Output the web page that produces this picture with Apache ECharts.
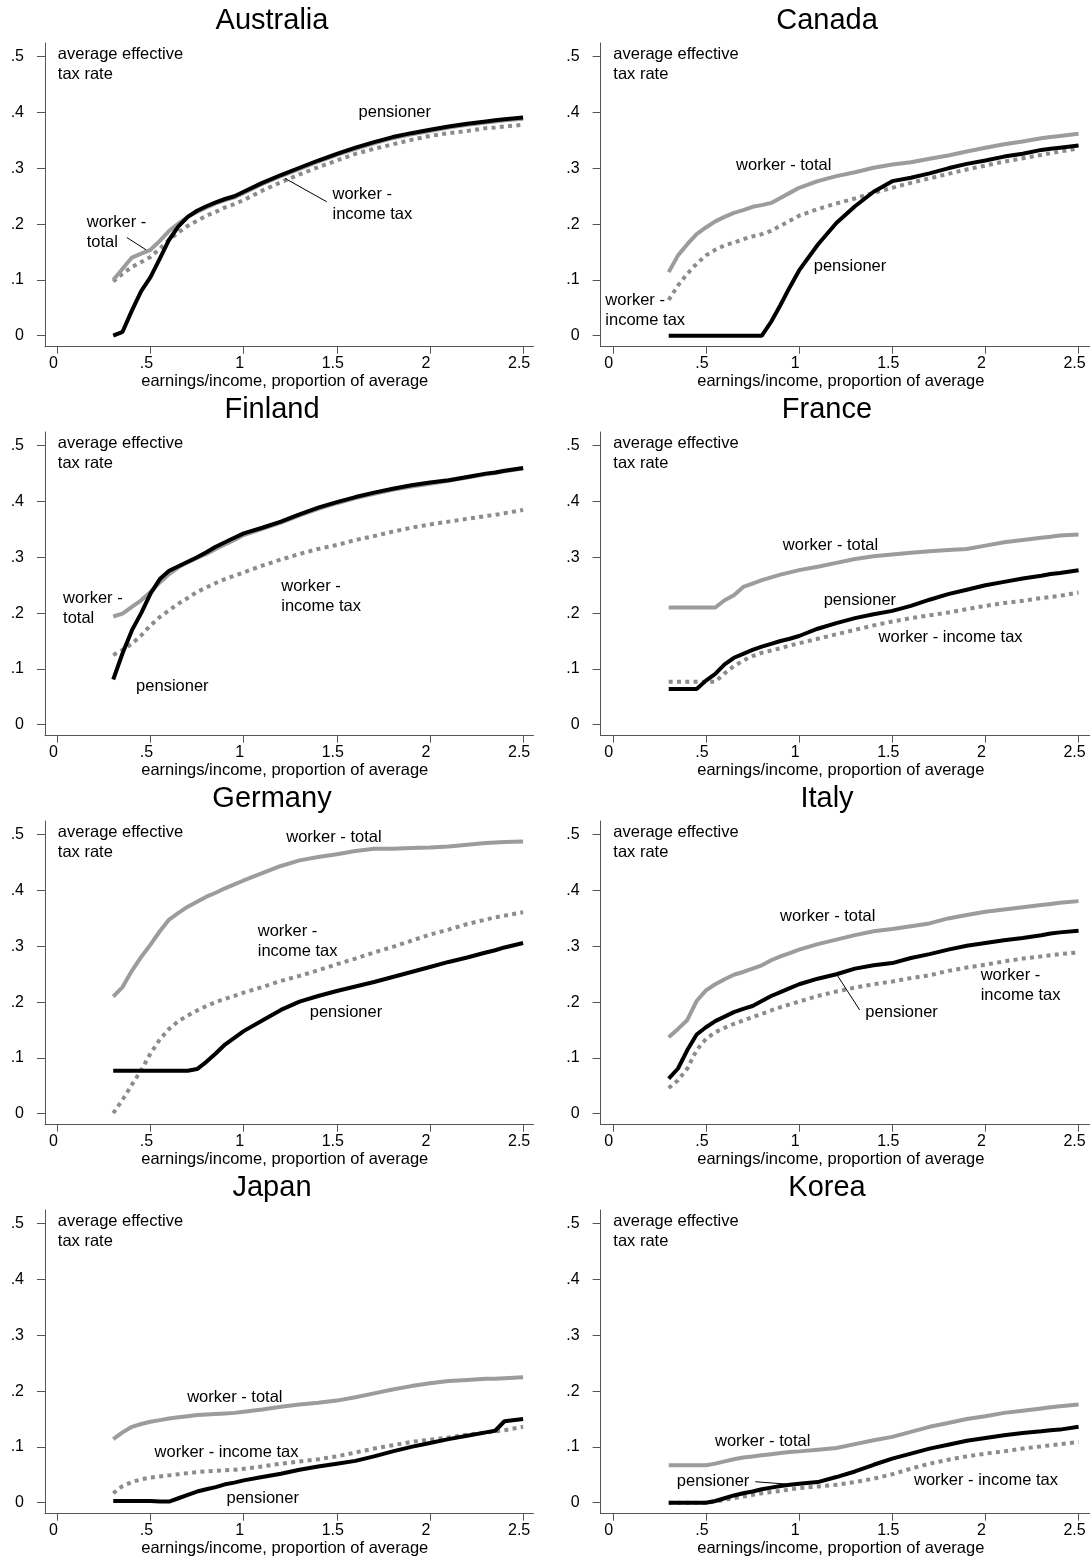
<!DOCTYPE html>
<html><head><meta charset="utf-8">
<script src="https://cdn.jsdelivr.net/npm/echarts@6/dist/echarts.min.js"></script>
<style>html,body{margin:0;padding:0;background:#fff}#c{width:1090px;height:1558px}</style>
</head><body><div id="c"></div>
<script>
// earnings/income as proportion of average
const earnings = [0.3,0.35,0.4,0.45,0.5,0.55,0.6,0.65,0.7,0.75,0.8,0.85,0.9,0.95,1.0,1.1,1.2,1.3,1.4,1.5,1.6,1.7,1.8,1.9,2.0,2.1,2.2,2.3,2.35,2.4,2.5];

const ausPens  = [0.0,0.007,0.045,0.08,0.105,0.138,0.172,0.196,0.213,0.224,0.232,0.239,0.245,0.25,0.258,0.274,0.288,0.301,0.314,0.326,0.337,0.347,0.356,0.363,0.369,0.375,0.38,0.384,0.386,0.388,0.391];
const ausTotal = [0.1,0.12,0.14,0.147,0.154,0.17,0.188,0.201,0.213,0.222,0.230,0.237,0.243,0.248,0.256,0.272,0.286,0.299,0.312,0.324,0.335,0.345,0.354,0.361,0.367,0.373,0.378,0.382,0.384,0.386,0.389];
const ausTax   = [0.097,0.111,0.123,0.132,0.141,0.156,0.172,0.185,0.197,0.206,0.215,0.222,0.23,0.236,0.243,0.26,0.275,0.289,0.302,0.314,0.326,0.335,0.343,0.351,0.358,0.363,0.367,0.372,0.373,0.375,0.378];

const canPens  = [0,0,0,0,0,0,0,0,0,0,0,0.025,0.055,0.087,0.117,0.163,0.202,0.232,0.258,0.277,0.283,0.291,0.3,0.308,0.314,0.321,0.326,0.333,0.335,0.337,0.341];
const canTotal = [0.114,0.144,0.164,0.182,0.194,0.205,0.213,0.22,0.225,0.231,0.234,0.238,0.247,0.256,0.265,0.277,0.286,0.293,0.301,0.307,0.311,0.317,0.323,0.33,0.337,0.343,0.348,0.354,0.356,0.358,0.362];
const canTax   = [0.064,0.09,0.111,0.129,0.144,0.154,0.162,0.167,0.173,0.178,0.182,0.188,0.197,0.206,0.215,0.227,0.237,0.246,0.256,0.265,0.274,0.282,0.29,0.298,0.305,0.312,0.318,0.324,0.327,0.33,0.336];

const finPens  = [0.081,0.128,0.169,0.2,0.235,0.261,0.276,0.284,0.292,0.3,0.309,0.319,0.327,0.335,0.343,0.353,0.364,0.377,0.389,0.399,0.408,0.416,0.423,0.429,0.434,0.438,0.444,0.45,0.452,0.455,0.46];
const finTotal = [0.194,0.199,0.211,0.223,0.238,0.255,0.27,0.282,0.291,0.299,0.306,0.315,0.323,0.331,0.34,0.351,0.362,0.375,0.387,0.397,0.406,0.414,0.421,0.427,0.432,0.437,0.443,0.449,0.451,0.454,0.459];
const finTax   = [0.125,0.134,0.145,0.16,0.178,0.193,0.205,0.217,0.227,0.238,0.246,0.254,0.261,0.267,0.273,0.285,0.296,0.306,0.315,0.322,0.331,0.338,0.346,0.353,0.359,0.364,0.369,0.374,0.376,0.379,0.385];

const fraPens  = [0.064,0.064,0.064,0.064,0.079,0.091,0.108,0.12,0.127,0.134,0.14,0.145,0.15,0.154,0.159,0.172,0.182,0.191,0.198,0.204,0.213,0.224,0.234,0.242,0.25,0.256,0.262,0.267,0.27,0.272,0.277];
const fraTotal = [0.21,0.21,0.21,0.21,0.21,0.21,0.223,0.232,0.247,0.253,0.259,0.264,0.269,0.273,0.277,0.283,0.29,0.297,0.302,0.305,0.308,0.311,0.313,0.315,0.321,0.327,0.331,0.335,0.337,0.339,0.341];
const fraTax   = [0.077,0.077,0.077,0.077,0.077,0.077,0.092,0.105,0.115,0.123,0.129,0.133,0.137,0.142,0.146,0.154,0.162,0.17,0.178,0.185,0.191,0.196,0.201,0.207,0.213,0.218,0.222,0.227,0.229,0.231,0.237];

const gerPens  = [0.077,0.077,0.077,0.077,0.077,0.077,0.077,0.077,0.077,0.08,0.093,0.108,0.124,0.136,0.148,0.167,0.186,0.201,0.211,0.22,0.228,0.236,0.245,0.254,0.263,0.272,0.28,0.289,0.293,0.298,0.306];
const gerTotal = [0.21,0.227,0.256,0.281,0.303,0.327,0.348,0.36,0.371,0.38,0.389,0.396,0.404,0.411,0.418,0.431,0.444,0.454,0.46,0.465,0.471,0.475,0.475,0.476,0.477,0.479,0.482,0.485,0.486,0.487,0.488];
const gerTax   = [0.001,0.025,0.052,0.078,0.108,0.133,0.152,0.166,0.176,0.185,0.193,0.2,0.206,0.211,0.217,0.227,0.238,0.247,0.257,0.268,0.278,0.289,0.299,0.31,0.321,0.33,0.34,0.348,0.352,0.355,0.361];

const itaPens  = [0.063,0.081,0.114,0.142,0.155,0.166,0.174,0.182,0.188,0.193,0.202,0.211,0.218,0.225,0.232,0.242,0.25,0.26,0.266,0.27,0.279,0.286,0.294,0.301,0.306,0.311,0.315,0.32,0.323,0.325,0.328];
const itaTotal = [0.137,0.152,0.168,0.202,0.221,0.232,0.241,0.249,0.254,0.26,0.266,0.275,0.282,0.288,0.294,0.304,0.312,0.32,0.327,0.331,0.336,0.341,0.35,0.356,0.362,0.366,0.37,0.374,0.376,0.378,0.381];
const itaTax   = [0.046,0.06,0.081,0.114,0.134,0.146,0.154,0.161,0.167,0.173,0.179,0.185,0.191,0.196,0.201,0.211,0.219,0.226,0.232,0.237,0.243,0.248,0.256,0.262,0.267,0.273,0.278,0.282,0.284,0.286,0.289];

const jpnPens  = [0.003,0.003,0.003,0.003,0.003,0.002,0.002,0.008,0.014,0.02,0.024,0.028,0.033,0.036,0.04,0.046,0.052,0.059,0.065,0.07,0.075,0.083,0.092,0.1,0.107,0.114,0.12,0.126,0.129,0.146,0.15];
const jpnTotal = [0.114,0.126,0.136,0.141,0.145,0.148,0.151,0.153,0.155,0.157,0.158,0.159,0.16,0.161,0.163,0.167,0.172,0.176,0.179,0.183,0.189,0.196,0.203,0.209,0.214,0.218,0.22,0.222,0.222,0.223,0.225];
const jpnTax   = [0.017,0.03,0.037,0.042,0.045,0.047,0.049,0.051,0.053,0.055,0.056,0.057,0.058,0.059,0.061,0.065,0.07,0.074,0.078,0.083,0.09,0.097,0.103,0.109,0.113,0.117,0.122,0.126,0.128,0.13,0.136];

const korPens  = [0,0,0,0,0,0.003,0.008,0.013,0.017,0.02,0.024,0.027,0.03,0.032,0.034,0.037,0.046,0.056,0.068,0.079,0.088,0.097,0.104,0.111,0.116,0.121,0.125,0.128,0.13,0.131,0.136];
const korTotal = [0.067,0.067,0.067,0.067,0.067,0.07,0.074,0.078,0.081,0.083,0.085,0.087,0.089,0.091,0.092,0.095,0.098,0.105,0.112,0.118,0.127,0.136,0.143,0.15,0.155,0.161,0.165,0.169,0.171,0.173,0.176];
const korTax   = [0,0,0,0,0,0.002,0.005,0.008,0.011,0.014,0.017,0.019,0.021,0.024,0.026,0.029,0.032,0.037,0.043,0.051,0.061,0.07,0.077,0.083,0.088,0.092,0.097,0.101,0.103,0.105,0.109];

const countries = ['Australia','Canada','Finland','France','Germany','Italy','Japan','Korea'];
const pensioner = [ausPens, canPens, finPens, fraPens, gerPens, itaPens, jpnPens, korPens];
const workerTotal = [ausTotal, canTotal, finTotal, fraTotal, gerTotal, itaTotal, jpnTotal, korTotal];
const workerIncomeTax = [ausTax, canTax, finTax, fraTax, gerTax, itaTax, jpnTax, korTax];

const xTickValues = [0, 0.5, 1, 1.5, 2, 2.5];
const xTickLabels = ['0', '.5', '1', '1.5', '2', '2.5'];
const yTickValues = [0, 0.1, 0.2, 0.3, 0.4, 0.5];
const yTickLabels = ['0', '.1', '.2', '.3', '.4', '.5'];

// annotation labels [x, y, text] in data units (left edge, vertical middle)
const yTitleNote = [0, 0.4865, 'average effective\ntax rate'];
const ausNotes = [[1.614, 0.401, 'pensioner'], [1.474, 0.236, 'worker -\nincome tax'], [0.155, 0.1855, 'worker -\ntotal']];
const canNotes = [[0.659, 0.305, 'worker - total'], [1.076, 0.125, 'pensioner'], [-0.043, 0.045, 'worker -\nincome tax']];
const finNotes = [[0.028, 0.2086, 'worker -\ntotal'], [1.199, 0.2294, 'worker -\nincome tax'], [0.42, 0.068, 'pensioner']];
const fraNotes = [[0.910, 0.321, 'worker - total'], [1.129, 0.222, 'pensioner'], [1.424, 0.157, 'worker - income tax']];
const gerNotes = [[1.226, 0.496, 'worker - total'], [1.073, 0.3095, 'worker -\nincome tax'], [1.352, 0.181, 'pensioner']];
const itaNotes = [[0.895, 0.353, 'worker - total'], [1.353, 0.181, 'pensioner'], [1.972, 0.230, 'worker -\nincome tax']];
const jpnNotes = [[0.694, 0.188, 'worker - total'], [0.519, 0.0896, 'worker - income tax'], [0.905, 0.0079, 'pensioner']];
const korNotes = [[0.546, 0.109, 'worker - total'], [0.341, 0.0376, 'pensioner'], [1.614, 0.0394, 'worker - income tax']];
const notes = [ausNotes, canNotes, finNotes, fraNotes, gerNotes, itaNotes, jpnNotes, korNotes];

// connector lines [x1, y1, x2, y2]
const ausLinks = [[1.446, 0.240, 1.222, 0.282], [0.373, 0.176, 0.476, 0.154]];
const itaLinks = [[1.325, 0.186, 1.203, 0.249]];
const korLinks = [[0.765, 0.0376, 0.998, 0.0317]];
const links = [ausLinks, [], [], [], [], itaLinks, [], korLinks];

// ---------- layout ----------
const FONT = '"Liberation Sans", Arial, Helvetica, sans-serif';
const COL_LEFT = [45, 600.6];
const COL_WIDTH = [488.5, 489.4];
const ROW_TOP = 43, ROW_STEP = 389, PLOT_H = 303.7;
const X_RANGE = [[-0.0663, 2.5558], [-0.0655, 2.5614]];
const Y_RANGE = [-0.0197, 0.5246];
const TITLE_X = [272, 827];
const TITLE_Y = 20.5;
const AXIS_COLOR = '#555';

function lookup(vals, labels, v) {
  const i = vals.findIndex(t => Math.abs(t - v) < 1e-6);
  return i >= 0 ? labels[i] : '';
}

const grids = [], xAxes = [], yAxes = [], series = [], graphics = [];
countries.forEach((name, k) => {
  const col = k % 2, row = Math.floor(k / 2);
  grids.push({left: COL_LEFT[col], top: ROW_TOP + ROW_STEP * row, width: COL_WIDTH[col], height: PLOT_H, containLabel: false});
  xAxes.push({
    type: 'value', gridIndex: k, min: X_RANGE[col][0], max: X_RANGE[col][1],
    splitLine: {show: false},
    axisLine: {show: true, onZero: false, lineStyle: {color: AXIS_COLOR, width: 1}},
    axisTick: {show: true, length: 7, customValues: xTickValues, lineStyle: {color: AXIS_COLOR}},
    axisLabel: {customValues: xTickValues, formatter: v => lookup(xTickValues, xTickLabels, v),
      color: '#000', fontSize: 16, fontFamily: FONT, margin: 9, padding: [0, 8, 0, 0]},
    name: 'earnings/income, proportion of average', nameLocation: 'middle', nameGap: 25,
    nameTextStyle: {color: '#000', fontSize: 16.5, fontFamily: FONT, padding: [0, 9, 0, 0]}
  });
  yAxes.push({
    type: 'value', gridIndex: k, min: Y_RANGE[0], max: Y_RANGE[1],
    splitLine: {show: false},
    axisLine: {show: true, onZero: false, lineStyle: {color: AXIS_COLOR, width: 1}},
    axisTick: {show: true, length: 8, customValues: yTickValues, lineStyle: {color: AXIS_COLOR}},
    axisLabel: {customValues: yTickValues, formatter: v => lookup(yTickValues, yTickLabels, v),
      color: '#000', fontSize: 16, fontFamily: FONT, margin: 21}
  });
  const pts = arr => earnings.map((x, i) => [x, arr[i]]);
  series.push({
    type: 'line', xAxisIndex: k, yAxisIndex: k, data: pts(workerIncomeTax[k]), showSymbol: false, symbol: 'none',
    lineStyle: {color: '#8c8c8c', width: 4, type: [4, 4.3], cap: 'butt'}, silent: true, z: 2
  });
  series.push({
    type: 'line', xAxisIndex: k, yAxisIndex: k, data: pts(workerTotal[k]), showSymbol: false, symbol: 'none',
    lineStyle: {color: '#9c9c9c', width: 4}, silent: true, z: 3
  });
  const allNotes = [yTitleNote].concat(notes[k]);
  series.push({
    type: 'line', xAxisIndex: k, yAxisIndex: k, data: pts(pensioner[k]), showSymbol: false, symbol: 'none',
    lineStyle: {color: '#000', width: 4}, silent: true, z: 4,
    markPoint: {
      silent: true, animation: false,
      data: allNotes.map(n => ({coord: [n[0], n[1]], name: n[2], symbol: 'circle', symbolSize: 1,
        itemStyle: {color: 'rgba(0,0,0,0)'},
        label: {show: true, formatter: n[2], position: 'right', distance: 0, align: 'left', verticalAlign: 'middle',
          color: '#000', fontSize: 16.5, lineHeight: 20, fontFamily: FONT}}))
    },
    markLine: {
      silent: true, animation: false, symbol: ['none', 'none'], label: {show: false},
      lineStyle: {color: '#000', width: 1, type: 'solid'},
      data: links[k].map(l => [{coord: [l[0], l[1]]}, {coord: [l[2], l[3]]}])
    }
  });
  graphics.push({
    type: 'text', x: TITLE_X[col], y: TITLE_Y + ROW_STEP * row,
    style: {text: name, fill: '#000', font: '29px ' + FONT, align: 'center', verticalAlign: 'middle'}
  });
});

const chart = echarts.init(document.getElementById('c'), null, {renderer: 'canvas'});
chart.setOption({
  backgroundColor: '#fff',
  animation: false,
  grid: grids, xAxis: xAxes, yAxis: yAxes, series: series, graphic: graphics
});
</script></body></html>
